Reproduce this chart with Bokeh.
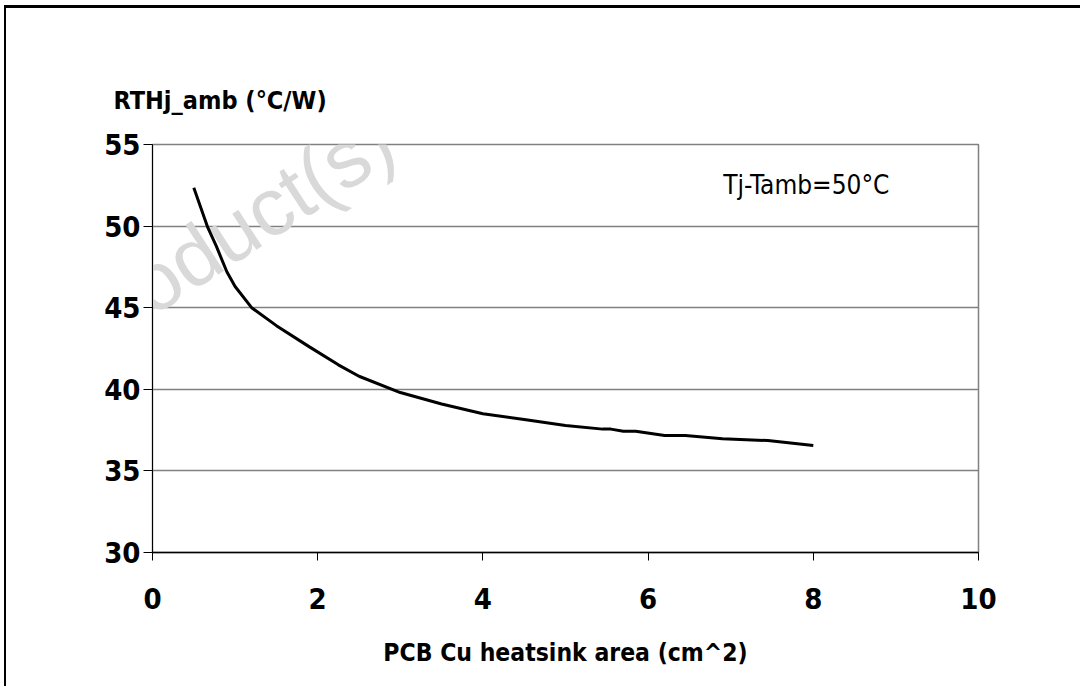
from bokeh.plotting import figure
from bokeh.models import Range1d, Label, FixedTicker
from bokeh.embed import file_html
from bokeh.resources import INLINE

# Data
area_cm2 = [0.5, 0.67, 0.77, 0.9, 1.0, 1.2, 1.5, 1.9, 2.25, 2.5, 3.0, 3.5, 4.0,
            4.5, 5.0, 5.45, 5.55, 5.7, 5.85, 6.2, 6.45, 6.9, 7.45, 8.0]
rth_j_amb = [52.35, 49.9, 48.8, 47.2, 46.3, 45.0, 43.9, 42.6, 41.5, 40.8, 39.8, 39.1, 38.5,
             38.15, 37.78, 37.56, 37.56, 37.43, 37.43, 37.17, 37.17, 36.97, 36.86, 36.56]
x_ticks = [0, 2, 4, 6, 8, 10]
y_ticks = [30, 35, 40, 45, 50, 55]

FONT = "DejaVu Sans Condensed"

p = figure(width=1080, height=686, x_range=Range1d(0, 10), y_range=Range1d(30, 55),
           output_backend="svg", toolbar_location=None,
           min_border_left=152, min_border_right=102, min_border_top=144, min_border_bottom=134)

p.background_fill_color = "white"
p.border_fill_color = "white"
p.border_fill_alpha = 0.0
# document frame lines of the source page (top rule and left rule)
p.styles = {
    "background-color": "white",
    "box-shadow": "inset 4px 5px 0 0 white, inset 6px 8px 0 0 black",
}
p.outline_line_color = "#808080"
p.outline_line_width = 1.5

p.title.text = "RTHj_amb (°C/W)"
p.title.align = "left"
p.title.offset = -39
p.title.standoff = 59
p.title.text_font = FONT
p.title.text_font_style = "bold"
p.title.text_font_size = "25px"
p.title.text_color = "black"

p.xgrid.grid_line_color = None
p.ygrid.grid_line_color = "#808080"
p.ygrid.grid_line_width = 1.5

p.xaxis.ticker = FixedTicker(ticks=x_ticks)
p.yaxis.ticker = FixedTicker(ticks=y_ticks)
for ax in (p.xaxis, p.yaxis):
    ax.axis_line_color = "black"
    ax.major_tick_line_color = "black"
    ax.major_tick_in = 0
    ax.minor_tick_line_color = None
    ax.major_label_text_font = FONT
    ax.major_label_text_font_style = "bold"
    ax.major_label_text_font_size = "29px"
    ax.major_label_text_color = "black"
p.xaxis.axis_line_width = 1.5
p.yaxis.axis_line_width = 1
p.xaxis.major_tick_out = 8
p.yaxis.major_tick_out = 9
p.xaxis.major_label_standoff = 27
p.yaxis.major_label_standoff = 3

p.xaxis.axis_label = "PCB Cu heatsink area (cm^2)"
p.xaxis.axis_label_text_font = FONT
p.xaxis.axis_label_text_font_style = "bold"
p.xaxis.axis_label_text_font_size = "24.5px"
p.xaxis.axis_label_text_color = "black"
p.xaxis.axis_label_standoff = 26

# watermark
p.add_layout(Label(x=3.184, y=56.96, text="Obsolete Product(s) - Obsolete Product(s)",
                   angle=33, angle_units="deg", text_align="center", text_baseline="middle",
                   text_font="Liberation Sans", text_font_size="82px", text_color="#d9d9d9",
                   level="underlay"))

p.line(area_cm2, rth_j_amb, line_color="black", line_width=3)

p.add_layout(Label(x=6.91, y=52.49, text="Tj-Tamb=50°C", text_align="left",
                   text_baseline="middle", text_font=FONT, text_font_size="26px",
                   text_color="black"))

open("out.html", "w").write(file_html(p, INLINE))
